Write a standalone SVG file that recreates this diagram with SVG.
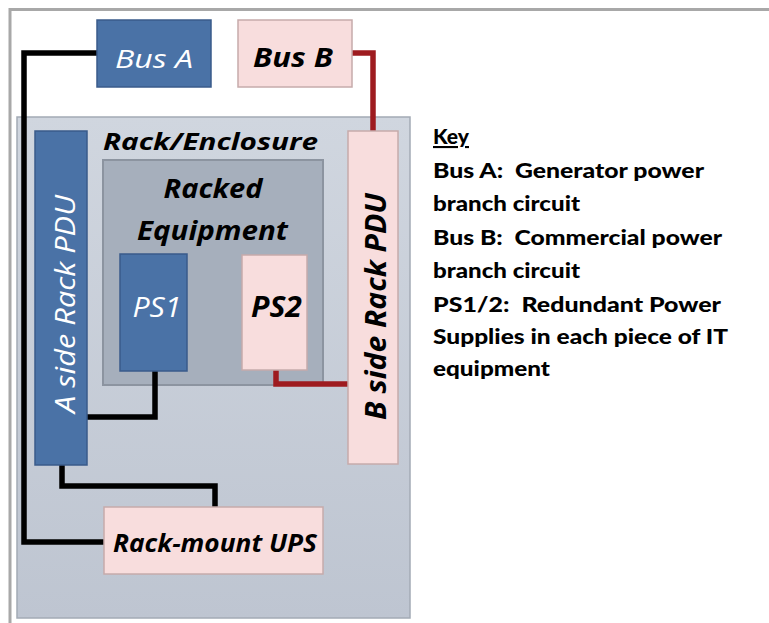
<svg xmlns="http://www.w3.org/2000/svg" width="769" height="623" viewBox="0 0 769 623">
  <defs>
    <linearGradient id="rackGrad" x1="0" y1="0" x2="0" y2="1">
      <stop offset="0" stop-color="#d0d6df"/>
      <stop offset="1" stop-color="#bec5d1"/>
    </linearGradient>
  </defs>
  <style>
    .blue { fill: #4a72a6; stroke: #3a5b8a; stroke-width: 1.5; }
    .pink { fill: #f8dddd; stroke: #c6abab; stroke-width: 1.5; }
    .lbl { font-family: "Open Sans", "Liberation Sans", sans-serif; font-style: italic; }
    .w { fill: #ffffff; }
    .b { fill: #000000; font-weight: bold; }
    .key { font-family: Lato, "Liberation Sans", sans-serif; font-weight: 900; font-size: 21px; fill: #000; }
    .wire { fill: none; stroke-width: 5.5; stroke-linejoin: miter; stroke-linecap: butt; }
    .blk { stroke: #000000; }
    .red { stroke: #9e1b1f; }
  </style>
  <rect x="0" y="0" width="769" height="623" fill="#ffffff"/>
  <g id="frame" fill="none" stroke="#a8a8a8" stroke-width="3">
    <path d="M10,623 V9.5 H769"/>
  </g>

  <g id="rack">
    <rect x="17" y="117" width="393" height="501" fill="url(#rackGrad)" stroke="#a3aab5" stroke-width="1.5"/>
    <text class="lbl b" x="210.5" y="150" font-size="24" text-anchor="middle" textLength="215" lengthAdjust="spacingAndGlyphs">Rack/Enclosure</text>
  </g>

  <g id="racked-equipment">
    <rect x="103" y="160" width="220" height="225" fill="#a6afbc" stroke="#8c94a0" stroke-width="2"/>
    <text class="lbl b" x="213" y="198" font-size="27" text-anchor="middle" textLength="99" lengthAdjust="spacingAndGlyphs">Racked</text>
    <text class="lbl b" x="212.5" y="240" font-size="27" text-anchor="middle" textLength="151" lengthAdjust="spacingAndGlyphs">Equipment</text>
  </g>

  <g id="connectors" class="wire">
    <path class="wire blk" d="M97,53 H24 V542 H104"/>
    <path class="wire blk" d="M155,371 V417 H87"/>
    <path class="wire blk" d="M62,465 V486 H215 V507"/>
    <path class="wire red" d="M352,53 H373 V131"/>
    <path class="wire red" d="M276,370 V384 H348"/>
  </g>

  <g id="bus-a">
    <rect class="blue" x="97" y="20" width="114" height="67"/>
    <text class="lbl w" x="154" y="68" font-size="26" text-anchor="middle" textLength="78" lengthAdjust="spacingAndGlyphs">Bus A</text>
  </g>

  <g id="bus-b">
    <rect class="pink" x="238" y="20" width="114" height="67"/>
    <text class="lbl b" x="293" y="67" font-size="26" text-anchor="middle" textLength="80" lengthAdjust="spacingAndGlyphs">Bus B</text>
  </g>

  <g id="a-pdu">
    <rect class="blue" x="35" y="131" width="52" height="334"/>
    <text class="lbl w" transform="translate(75,304) rotate(-90)" font-size="28" text-anchor="middle" textLength="218" lengthAdjust="spacingAndGlyphs">A side Rack PDU</text>
  </g>

  <g id="b-pdu">
    <rect class="pink" x="348" y="131" width="50" height="333"/>
    <text class="lbl b" transform="translate(386,306.5) rotate(-90)" font-size="28" text-anchor="middle" textLength="227" lengthAdjust="spacingAndGlyphs">B side Rack PDU</text>
  </g>

  <g id="ps1">
    <rect class="blue" x="120" y="254" width="67" height="117"/>
    <text class="lbl w" x="157" y="317" font-size="28" text-anchor="middle" textLength="49" lengthAdjust="spacingAndGlyphs">PS1</text>
  </g>

  <g id="ps2">
    <rect class="pink" x="242" y="255" width="65" height="115"/>
    <text class="lbl b" x="276.5" y="317" font-size="28" text-anchor="middle" textLength="51" lengthAdjust="spacingAndGlyphs">PS2</text>
  </g>

  <g id="ups">
    <rect class="pink" x="104" y="507" width="219" height="67"/>
    <text class="lbl b" x="215" y="552" font-size="25" text-anchor="middle" textLength="204" lengthAdjust="spacingAndGlyphs">Rack-mount UPS</text>
  </g>

  <g id="key">
    <text class="key" x="433" y="144" textLength="36" lengthAdjust="spacingAndGlyphs" text-decoration="underline">Key</text>
    <text class="key" x="433" y="178" textLength="271" lengthAdjust="spacingAndGlyphs">Bus A:&#160; Generator power</text>
    <text class="key" x="433" y="211" textLength="147" lengthAdjust="spacingAndGlyphs">branch circuit</text>
    <text class="key" x="433" y="245" textLength="289" lengthAdjust="spacingAndGlyphs">Bus B:&#160; Commercial power</text>
    <text class="key" x="433" y="278" textLength="147" lengthAdjust="spacingAndGlyphs">branch circuit</text>
    <text class="key" x="433" y="312" textLength="288" lengthAdjust="spacingAndGlyphs">PS1/2:&#160; Redundant Power</text>
    <text class="key" x="433" y="344" textLength="295" lengthAdjust="spacingAndGlyphs">Supplies in each piece of IT</text>
    <text class="key" x="433" y="376" textLength="117" lengthAdjust="spacingAndGlyphs">equipment</text>
  </g>
</svg>
